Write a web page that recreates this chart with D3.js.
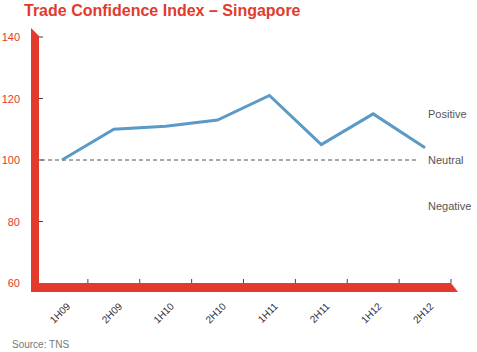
<!DOCTYPE html>
<meta charset="utf-8">
<style>
  body { margin: 0; background: #fff; }
  text { font-family: 'Liberation Sans', Arial, sans-serif; }
</style>
<body>
<div id="chart"></div>
<script src="https://d3js.org/d3.v7.min.js"></script>
<script>
// data
var periods = ["1H09", "2H09", "1H10", "2H10", "1H11", "2H11", "1H12", "2H12"];
var confidence = [100, 110, 111, 113, 121, 105, 115, 104];
var yTicks = [60, 80, 100, 120, 140];
var zoneLabels = ["Positive", "Neutral", "Negative"];
var zoneValues = [115, 100, 85];
var neutralLevel = 100;

var red = "#e23a2c";
var W = 477, H = 352;

var svg = d3.select("#chart").append("svg")
    .attr("width", W)
    .attr("height", H);

var x = d3.scaleBand()
    .domain(periods)
    .range([36, 451]);

var y = d3.scaleLinear()
    .domain([60, 140])
    .range([283, 37]);

// title
svg.append("text")
    .attr("x", 24).attr("y", 16)
    .attr("fill", red)
    .attr("font-size", 16)
    .attr("font-weight", "bold")
    .text("Trade Confidence Index \u2013 Singapore");

// y tick marks
svg.selectAll(".ytick")
  .data(yTicks.filter(function(d) { return d > 60; }))
  .enter().append("line")
    .attr("x1", 39).attr("x2", 43)
    .attr("y1", function(d) { return y(d); })
    .attr("y2", function(d) { return y(d); })
    .attr("stroke", "#444").attr("stroke-width", 1);

// y tick labels
svg.selectAll(".ylab")
  .data(yTicks)
  .enter().append("text")
    .attr("x", 20)
    .attr("y", function(d) { return y(d) + 4; })
    .attr("text-anchor", "end")
    .attr("font-size", 11)
    .attr("fill", red)
    .text(function(d) { return d; });

// x tick marks (band edges)
svg.selectAll(".xtick")
  .data(periods)
  .enter().append("line")
    .attr("x1", function(d) { return x(d) + x.bandwidth(); })
    .attr("x2", function(d) { return x(d) + x.bandwidth(); })
    .attr("y1", y(60) - 4).attr("y2", y(60))
    .attr("stroke", "#444").attr("stroke-width", 1);

// red axis bars
var axTop = y(140), axBot = y(60), axRight = x.range()[1];
svg.append("path")
    .attr("d", "M31," + (axTop - 9) + "L39," + (axTop - 1) + "L39," + (axBot + 9) + "L31," + (axBot + 9) + "Z")
    .attr("fill", red);
svg.append("path")
    .attr("d", "M31," + axBot + "L" + axRight + "," + axBot + "L" + (axRight + 7) + "," + (axBot + 9) + "L31," + (axBot + 9) + "Z")
    .attr("fill", red);

// x labels
svg.selectAll(".xlab")
  .data(periods)
  .enter().append("text")
    .attr("text-anchor", "end")
    .attr("font-size", 10)
    .attr("fill", "#333")
    .attr("transform", function(d) {
      return "translate(" + (x(d) + x.bandwidth() / 2 + 9) + "," + (axBot + 24) + ") rotate(-45)";
    })
    .text(function(d) { return d; });

// neutral dashed line
svg.append("line")
    .attr("x1", 41).attr("x2", 418)
    .attr("y1", y(neutralLevel)).attr("y2", y(neutralLevel))
    .attr("stroke", "#555").attr("stroke-width", 1)
    .attr("stroke-dasharray", "4,3");

// zone labels
svg.selectAll(".zone")
  .data(zoneLabels)
  .enter().append("text")
    .attr("x", 428)
    .attr("y", function(d, i) { return y(zoneValues[i]) + 4; })
    .attr("font-size", 11)
    .attr("fill", "#555")
    .text(function(d) { return d; });

// line
var line = d3.line()
    .x(function(d, i) { return x(periods[i]) + x.bandwidth() / 2; })
    .y(function(d) { return y(d); });

svg.append("path")
    .datum(confidence)
    .attr("d", line)
    .attr("fill", "none")
    .attr("stroke", "#5a9ac6")
    .attr("stroke-width", 3);

// source
svg.append("text")
    .attr("x", 12).attr("y", 348)
    .attr("font-size", 10)
    .attr("fill", "#777")
    .text("Source: TNS");
</script>
</body>
